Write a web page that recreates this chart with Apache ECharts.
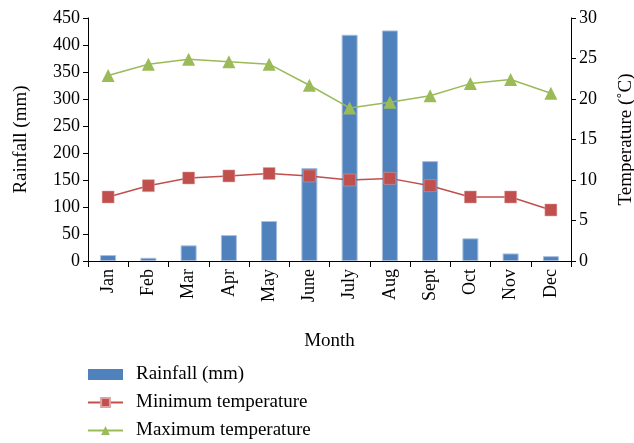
<!DOCTYPE html>
<html><head><meta charset="utf-8">
<script src="https://cdn.jsdelivr.net/npm/echarts@6/dist/echarts.min.js"></script>
<style>html,body{margin:0;padding:0;background:#fff}#c{width:634px;height:443px}</style>
</head><body><div id="c"></div>
<script>
const months = ['Jan','Feb','Mar','Apr','May','June','July','Aug','Sept','Oct','Nov','Dec'];
const rainfall = [11, 6, 29, 48, 74, 172, 419, 427, 185, 42, 14, 9];
const minTemp = [7.9, 9.3, 10.25, 10.5, 10.8, 10.5, 10.0, 10.2, 9.3, 7.9, 7.9, 6.3];
const maxTemp = [22.9, 24.3, 24.9, 24.6, 24.3, 21.7, 18.9, 19.6, 20.4, 21.9, 22.4, 20.7];

const F = 'Liberation Serif, DejaVu Serif, serif';
const chart = echarts.init(document.getElementById('c'), null, {renderer:'canvas'});
const axisLine = {show:true, lineStyle:{color:'#000', width:1}};
chart.setOption({
  animation:false,
  textStyle:{fontFamily:F, color:'#000'},
  grid:{left:88, right:63, top:18, bottom:182, containLabel:false, outerBoundsMode:'none'},
  legend:{
    orient:'vertical', left:82, top:360, height:90, itemWidth:35, itemHeight:11, itemGap:9,
    textStyle:{fontFamily:F, fontSize:19, color:'#000', padding:[0,0,0,8]},
    data:[{name:'Rainfall (mm)', icon:'rect', itemStyle:{borderWidth:0}},'Minimum temperature','Maximum temperature']
  },
  xAxis:{
    type:'category', data:months, boundaryGap:true,
    axisLine:axisLine,
    axisTick:{show:true, length:6, lineStyle:{color:'#000'}},
    axisLabel:{rotate:90, fontSize:18, color:'#000', fontFamily:F, margin:8},
    name:'Month', nameLocation:'middle', nameGap:71,
    nameTextStyle:{fontSize:19, color:'#000', fontFamily:F}
  },
  yAxis:[{
    type:'value', min:0, max:450, interval:50,
    axisLine:axisLine, splitLine:{show:false},
    axisTick:{show:true, length:5, lineStyle:{color:'#000'}},
    axisLabel:{fontSize:18, color:'#000', fontFamily:F, margin:8},
    name:'Rainfall (mm)', nameLocation:'middle', nameGap:57, nameRotate:90,
    nameTextStyle:{fontSize:19, color:'#000', fontFamily:F}
  },{
    type:'value', min:0, max:30, interval:5, position:'right',
    axisLine:axisLine, splitLine:{show:false},
    axisTick:{show:true, length:5, lineStyle:{color:'#000'}},
    axisLabel:{fontSize:18, color:'#000', fontFamily:F, margin:8},
    name:'Temperature (˚C)', nameLocation:'middle', nameGap:46, nameRotate:90,
    nameTextStyle:{fontSize:19, color:'#000', fontFamily:F}
  }],
  series:[{
    name:'Rainfall (mm)', type:'bar', data:rainfall, barWidth:16,
    itemStyle:{color:'#4f81bd', borderColor:'#a9c0dd', borderWidth:1}
  },{
    name:'Minimum temperature', type:'line', yAxisIndex:1, data:minTemp,
    symbol:'rect', symbolSize:12,
    lineStyle:{color:'#c0504d', width:1.5},
    itemStyle:{color:'#c0504d', borderColor:'#e0a0a0', borderWidth:0.5}
  },{
    name:'Maximum temperature', type:'line', yAxisIndex:1, data:maxTemp,
    symbol:'triangle', symbolSize:13,
    lineStyle:{color:'#9bbb59', width:1.5},
    itemStyle:{color:'#9bbb59'}
  }]
});
</script></body></html>
